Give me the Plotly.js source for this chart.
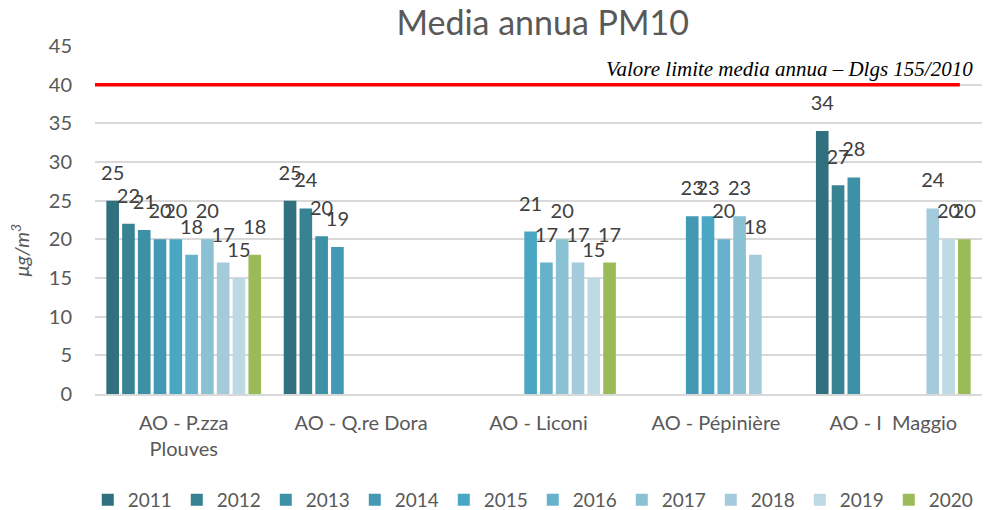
<!DOCTYPE html>
<html><head><meta charset="utf-8">
<script src="https://cdn.plot.ly/plotly-3.0.1.min.js"></script>
<style>html,body{margin:0;padding:0;background:#fff}#c{width:994px;height:510px}</style>
</head><body><div id="c"></div>
<script>
const categories = ["AO - P.zza<br>Plouves", "AO - Q.re Dora", "AO - Liconi", "AO - Pépinière", "AO - I  Maggio"];
const years = ["2011","2012","2013","2014","2015","2016","2017","2018","2019","2020"];
const v2011 = [25, 25, null, null, 34];
const v2012 = [22, 24, null, null, 27];
const v2013 = [21.2, 20.4, null, null, 28];
const v2014 = [20, 19, null, 23, null];
const v2015 = [20, null, 21, 23, null];
const v2016 = [18, null, 17, 20, null];
const v2017 = [20, null, 20, 23, null];
const v2018 = [17, null, 17, 18, 24];
const v2019 = [15, null, 15, null, 20];
const v2020 = [18, null, 17, null, 20];
const limitValue = 40;
const limitLabel = "Valore limite media annua – Dlgs 155/2010";
const series = [v2011,v2012,v2013,v2014,v2015,v2016,v2017,v2018,v2019,v2020];
const colors = ["#31717f","#378394","#3d91a6","#4399b3","#4aa7c3","#66b1cb","#8ac1d3","#a4cbdc","#bcd9e4","#9bbb59"];
const FONT = 'Lato, Open Sans, sans-serif';

const bars = series.map((vals, i) => ({
  type: 'bar', name: years[i], x: categories, y: vals,
  marker: {color: colors[i]}, hoverinfo: 'x+y+name'
}));
const labels = series.map((vals, i) => ({
  type: 'scatter', mode: 'markers+text', name: years[i] + ' label', showlegend: false,
  x: categories, y: vals, texttemplate: '%{y:.0f}', textposition: 'top center', cliponaxis: false,
  marker: {size: 24, opacity: 0}, hoverinfo: 'skip',
  textfont: {family: FONT, size: 20, color: '#404040'}
}));

const layout = {
  width: 994, height: 510,
  margin: {l: 95, r: 12, t: 46, b: 116},
  paper_bgcolor: '#fff', plot_bgcolor: '#fff',
  barmode: 'group', bargap: 0.11, bargroupgap: 0.2,
  scattermode: 'group', scattergap: 0.11,
  font: {family: FONT, color: '#595959'},
  title: {text: 'Media annua PM10', x: 0.546, xanchor: 'center', y: 0.955, yanchor: 'middle',
          font: {size: 34, color: '#595959', family: FONT}},
  xaxis: {showgrid: false, showline: true, linecolor: '#d9d9d9', linewidth: 2, ticks: '',
          ticklabelstandoff: 10, tickfont: {size: 20, color: '#595959'}},
  yaxis: {range: [0, 45], dtick: 5, showgrid: true, gridcolor: '#d9d9d9', gridwidth: 2,
          zeroline: false, showline: false, ticks: '', ticklabelstandoff: 22,
          tickfont: {size: 20, color: '#595959'}},
  showlegend: true,
  legend: {orientation: 'h', xref: 'container', x: 0.536, xanchor: 'center', yref: 'container', y: 0.02, yanchor: 'middle',
           font: {size: 19, color: '#595959'}, itemwidth: 30, entrywidth: 44, entrywidthmode: 'pixels',
           tracegroupgap: 0, traceorder: 'normal'},
  shapes: [{type: 'line', xref: 'paper', x0: 0, x1: 0.975, yref: 'y', y0: limitValue, y1: limitValue,
            line: {color: '#ff0000', width: 3.5}}],
  annotations: [
    {xref: 'paper', x: 0.992, xanchor: 'right', yref: 'y', y: limitValue, yanchor: 'bottom', yshift: 2,
     text: '<i>' + limitLabel + '</i>', showarrow: false,
     font: {family: 'Liberation Serif, Times New Roman, serif', size: 21, color: '#000'}},
    {xref: 'paper', x: -0.085, xanchor: 'center', yref: 'paper', y: 0.414, yanchor: 'middle',
     textangle: -90, showarrow: false, text: '<i>μg/m<sup>3</sup></i>',
     font: {family: FONT, size: 20, color: '#595959'}}
  ]
};
Plotly.newPlot('c', bars.concat(labels), layout, {displayModeBar: false, staticPlot: true});
</script></body></html>
